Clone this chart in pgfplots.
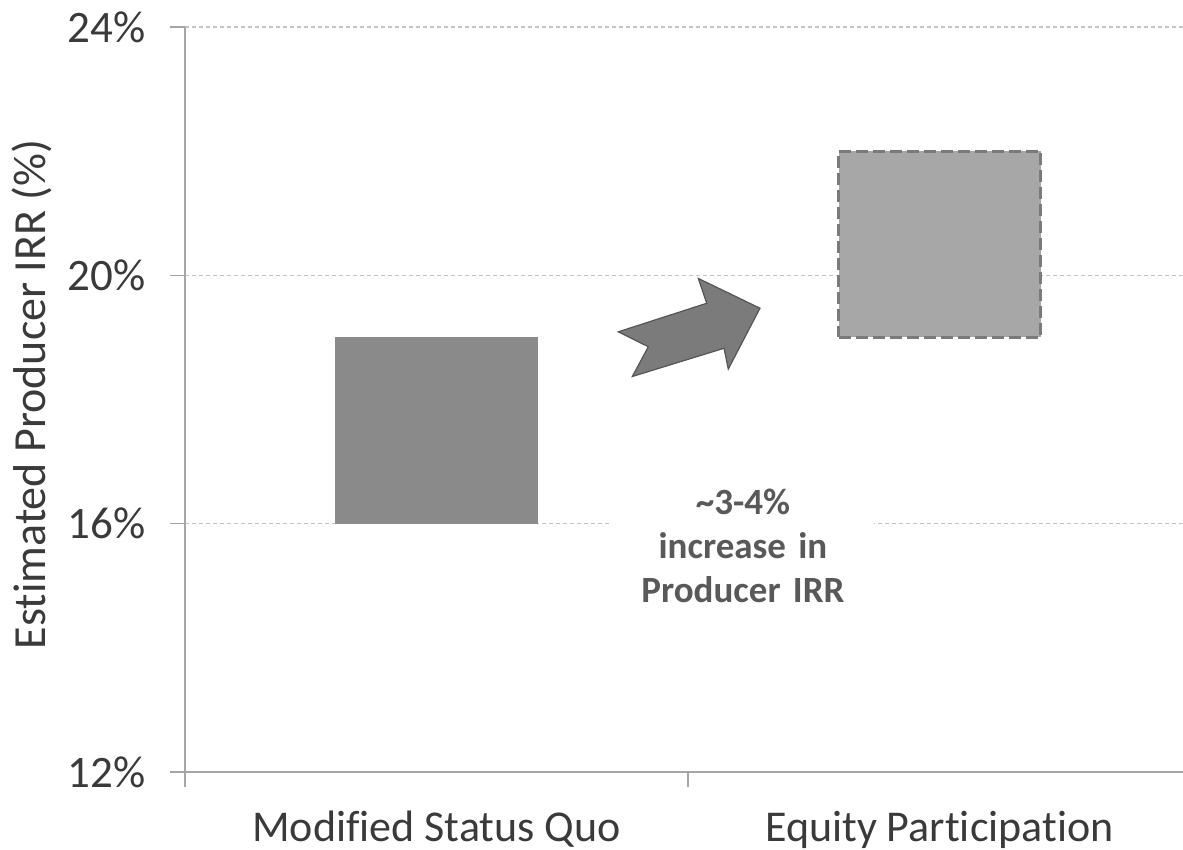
\documentclass[border=0pt]{standalone}
\usepackage{fontspec}
\setmainfont{Carlito}[Ligatures=NoCommon]
\usepackage{pgfplots}
\pgfplotsset{compat=1.18}

\definecolor{barA}{HTML}{8A8A8A}
\definecolor{barB}{HTML}{A7A7A7}
\definecolor{edgeB}{HTML}{7A7A7A}
\definecolor{arrowfill}{HTML}{7B7B7B}
\definecolor{arrowedge}{HTML}{555555}
\definecolor{gridc}{HTML}{C4C4C4}
\definecolor{axisc}{HTML}{A6A6A6}
\definecolor{txt}{HTML}{3A3A3A}
\definecolor{note}{HTML}{595959}

% shared geometry of the two overlaid axes
\pgfplotsset{
  irrframe/.style={
    scale only axis, width=503pt, height=372.5pt,
    xmin=-0.5, xmax=1.5, ymin=12, ymax=24,
    ybar stacked, bar width=101pt,
  },
}

\begin{document}
\begin{tikzpicture}
% Modified Status Quo: IRR range 16% to 19%
\begin{axis}[irrframe,
  axis x line*=bottom, axis y line*=left,
  axis line style={axisc, line width=0.8pt, -},
  ytick={12,16,20,24}, yticklabels={12\%,16\%,20\%,24\%},
  xtick={-0.5,0.5,1.5}, xticklabels={},
  extra x ticks={0,1},
  extra x tick labels={Modified Status Quo, Equity Participation},
  extra x tick style={major tick length=0pt, grid=none,
    tick label style={anchor=base, inner sep=0pt, yshift=-35pt,
      font=\fontsize{22}{24}\selectfont}},
  tick align=outside, major tick length=7.5pt,
  tick style={axisc, line width=0.8pt},
  ymajorgrids, grid style={gridc, dash pattern=on 2pt off 1.5pt, line width=0.6pt},
  ticklabel style={font=\fontsize{22.5}{24}\selectfont, text=txt},
  yticklabel style={anchor=east, inner sep=0pt, xshift=-12pt},
  ylabel={Estimated Producer IRR (\%)},
  every axis y label/.style={at={(axis description cs:-0.1382,0.507)},
    rotate=90, anchor=base, font=\fontsize{23}{25}\selectfont, text=txt},
]
\addplot[draw=none, fill=none] coordinates {(0,16)};
\addplot[fill=barA, draw=barA, line width=0.8pt] coordinates {(0,3)};

% block arrow pointing from the first range to the second
\filldraw[fill=arrowfill, draw=arrowedge, line width=0.6pt]
  (axis cs:0.3614,19.09) -- (axis cs:0.5372,19.55) -- (axis cs:0.5205,19.95)
  -- (axis cs:0.6431,19.47) -- (axis cs:0.5801,18.49) -- (axis cs:0.5716,18.825)
  -- (axis cs:0.3893,18.37) -- (axis cs:0.4211,18.85) -- cycle;

\node[fill=white, text=note, inner sep=0pt, text width=131.5pt, align=center,
  font=\bfseries\fontsize{18.5}{22}\selectfont]
  at (axis cs:0.6093,15.65) {\textasciitilde3-4\%\\increase in\\Producer IRR};
\end{axis}

% Equity Participation: IRR range 19% to 22%
\begin{axis}[irrframe, hide axis]
\addplot[draw=none, fill=none] coordinates {(1,19)};
\addplot[fill=barB, draw=edgeB, line width=1.6pt, dash pattern=on 6pt off 2.5pt]
  coordinates {(1,3)};
\end{axis}

\pgfresetboundingbox
\useasboundingbox (-92.5pt,-39pt) rectangle (499pt,386pt);
\end{tikzpicture}
\end{document}
